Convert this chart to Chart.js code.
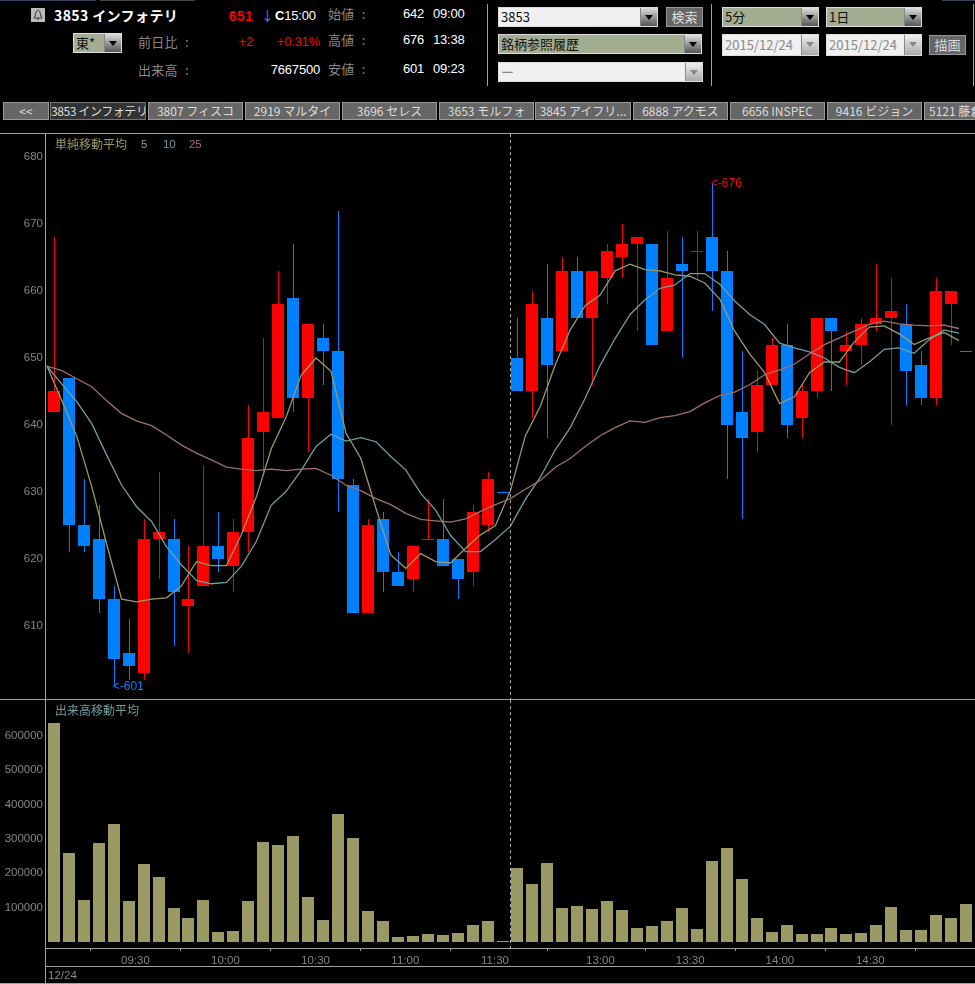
<!DOCTYPE html>
<html>
<head>
<meta charset="utf-8">
<script src="https://cdn.jsdelivr.net/npm/chart.js@4"></script>
<style>
html,body{margin:0;padding:0;background:#000;overflow:hidden}
body{width:975px;height:984px;position:relative;font-family:"Noto Sans CJK JP",sans-serif;font-size:13px;color:#888}
canvas{position:absolute;left:0;display:block}
.t{position:absolute;white-space:nowrap;line-height:16px}
.lab{word-spacing:4px;letter-spacing:.3px}
.num{font-family:"Liberation Sans",sans-serif;font-size:13px;letter-spacing:-.2px}
.r{text-align:right}
.w{color:#fff}
.red{color:#f00}
.hl{position:absolute;background:#a0a0a0;height:1px}
.vl{position:absolute;background:#a0a0a0;width:1px}
.box{position:absolute;box-sizing:border-box;border:1px solid #ddd;color:#111;line-height:18px;padding-left:2px;white-space:nowrap;overflow:hidden}
.light{background:#f0f0f0}
.olive{background:#a3ad92}
.arrow{position:absolute;right:0;top:0;bottom:0;width:16px;background:linear-gradient(#ddd,#555);border-left:1px solid #888}
.arrow:after{content:"";position:absolute;left:4px;top:7px;border:4px solid transparent;border-top:5px solid #000}
.off{background:#f0f0f0;color:#888}
.off .arrow{background:linear-gradient(#eee,#aaa)}
.off .arrow:after{border-top-color:#888}
.btn{position:absolute;box-sizing:border-box;background:#666;border:1px solid #999;color:#ddd;text-align:center;line-height:18px;height:20px}
.tab{position:absolute;box-sizing:border-box;top:102px;height:18px;background:#666;border:1px solid #999;color:#ddd;font-size:12px;line-height:16px;text-align:center;white-space:nowrap;overflow:hidden}
</style>
</head>
<body>
<div class="hl" style="left:0;top:0;width:96px;background:#3a3f60"></div>
<div class="hl" style="left:100px;top:0;width:95px;background:#444"></div>
<div class="hl" style="left:942px;top:0;width:33px;background:#3a3f60"></div>

<svg style="position:absolute;left:31px;top:8px" width="14" height="14"><rect width="14" height="14" fill="#bbb"/><path d="M7 2 C4 3 5 8 3 10 H11 C9 8 10 3 7 2 M6 11 H8" fill="none" stroke="#333"/></svg>
<div class="t w" style="left:54px;top:7px;font-weight:bold;font-size:14px;letter-spacing:.4px">3853 インフォテリ</div>
<div class="t num red r" style="left:210px;width:43px;top:8px;font-weight:bold;font-size:14px;letter-spacing:.3px">651</div>
<div class="t" style="left:261px;top:7px;color:#58f">↓</div>
<div class="t w num" style="left:275px;top:8px"><b>C</b>15:00</div>
<div class="t lab" style="left:328px;top:6px">始値 :</div>
<div class="t lab" style="left:328px;top:32px">高値 :</div>
<div class="t lab" style="left:328px;top:61px">安値 :</div>
<div class="t lab" style="left:138px;top:34px">前日比 :</div>
<div class="t lab" style="left:138px;top:62px">出来高 :</div>
<div class="t num w" style="left:403px;top:6px">642</div>
<div class="t num w" style="left:433px;top:6px">09:00</div>
<div class="t num w" style="left:403px;top:32px">676</div>
<div class="t num w" style="left:433px;top:32px">13:38</div>
<div class="t num w" style="left:403px;top:61px">601</div>
<div class="t num w" style="left:433px;top:61px">09:23</div>
<div class="t num red r" style="left:210px;width:43px;top:34px">+2</div>
<div class="t num red r" style="left:260px;width:60px;top:34px">+0.31%</div>
<div class="t num w r" style="left:260px;width:60px;top:62px">7667500</div>
<div class="box olive" style="left:73px;top:33px;width:49px;height:20px">東*<span class="arrow"></span></div>

<div class="vl" style="left:487px;top:4px;height:82px"></div>
<div class="vl" style="left:711px;top:4px;height:82px"></div>
<div class="vl" style="left:973px;top:4px;height:82px"></div>

<div class="box light" style="left:498px;top:7px;width:160px;height:20px">3853<span class="arrow"></span></div>
<div class="btn" style="left:666px;top:7px;width:37px">検索</div>
<div class="box olive" style="left:498px;top:34px;width:204px;height:20px">銘柄参照履歴<span class="arrow"></span></div>
<div class="box off" style="left:498px;top:62px;width:205px;height:20px">ー<span class="arrow"></span></div>
<div class="box olive" style="left:722px;top:7px;width:97px;height:20px">5分<span class="arrow"></span></div>
<div class="box olive" style="left:826px;top:7px;width:96px;height:20px">1日<span class="arrow"></span></div>
<div class="box off" style="left:722px;top:34px;width:97px;height:22px;font-size:13px;line-height:20px">2015/12/24<span class="arrow"></span></div>
<div class="box off" style="left:826px;top:34px;width:96px;height:22px;font-size:13px;line-height:20px">2015/12/24<span class="arrow"></span></div>
<div class="btn" style="left:929px;top:35px;width:37px">描画</div>

<div class="tab" style="left:3px;width:46px">&lt;&lt;</div>
<div class="tab" style="left:50px;width:96px;background:#333;border-color:#777;letter-spacing:-.4px">3853 インフォテリ</div>
<div class="tab" style="left:148px;width:95px">3807 フィスコ</div>
<div class="tab" style="left:245px;width:95px">2919 マルタイ</div>
<div class="tab" style="left:342px;width:95px">3696 セレス</div>
<div class="tab" style="left:439px;width:95px">3653 モルフォ</div>
<div class="tab" style="left:535px;width:96px">3845 アイフリ...</div>
<div class="tab" style="left:633px;width:95px">6888 アクモス</div>
<div class="tab" style="left:730px;width:95px">6656 INSPEC</div>
<div class="tab" style="left:827px;width:95px">9416 ビジョン</div>
<div class="tab" style="left:924px;width:60px;text-align:left;padding-left:4px">5121 藤倉</div>

<div class="hl" style="left:0;top:133px;width:975px"></div>
<div class="hl" style="left:0;top:699px;width:975px"></div>
<canvas id="price" width="975" height="565" style="top:134px"></canvas>
<canvas id="volume" width="975" height="284" style="top:700px"></canvas>
<div class="hl" style="left:46px;top:966px;width:929px"></div>
<div class="hl" style="left:0;top:983px;width:975px"></div>
<div class="vl" style="left:45px;top:133px;height:851px"></div>

<div class="t" style="left:55px;top:136px;font-size:12px;color:#9b9a65">単純移動平均</div>
<div class="t num" style="left:141px;top:136px;font-size:11.5px;color:#9b9a65">5</div>
<div class="t num" style="left:163px;top:136px;font-size:11.5px;color:#6f9f9f">10</div>
<div class="t num" style="left:189px;top:136px;font-size:11.5px;color:#a26f6f">25</div>
<div class="t" style="left:55px;top:702px;font-size:12px;color:#6f9f9f">出来高移動平均</div>
<div class="t num" style="left:48px;top:967px;font-size:11.5px;letter-spacing:0">12/24</div>

<script>
// 5 minute bars, 12/24 - 62 bars, morning then afternoon session
const opens = [642,647,625,623,614,606,603,623,623,613,616,622,619,624,639,641,659,644,653,651,631,612,626,618,617,623,623,620,618,625,630,650,645,656,651,663,656,662,665,667,667,654,664,666,668,663,642,639,646,652,641,645,656,651,652,655,656,655,649,644,658,651];
const highs = [668,647,632,628,616,611,626,633,626,622,634,627,626,643,653,663,667,655,655,672,632,626,627,621,622,629,629,620,628,633,630,656,660,664,665,665,663,667,670,668,667,669,668,669,676,666,651,648,653,655,646,656,656,654,656,664,662,658,651,662,660,651];
const lows = [642,621,621,612,601,602,602,617,607,606,616,618,615,621,633,641,642,636,646,627,612,612,615,616,615,623,619,614,616,624,630,645,641,638,651,656,646,658,662,654,652,654,650,662,657,632,626,636,646,638,638,644,645,646,649,654,640,643,643,643,652,651];
const closes = [645,625,622,614,605,604,623,624,615,614,622,620,624,638,642,658,644,655,651,632,612,625,618,616,622,623,619,617,627,632,630,645,658,649,663,656,663,666,667,668,652,662,663,666,663,640,638,646,652,640,645,656,654,652,655,656,657,648,644,660,660,651];
const flatBlue = [30,61]; // doji bars drawn blue, the others are red

const ma5 = [648.8,643.6,638.3,630.8,622.2,614,613.6,614,614.2,616,619.6,619,619,623.6,629.2,636.4,641.2,647.4,650,648,638.8,635,627.6,620.6,618.6,620.8,619.6,619.4,621.6,623.6,625,630.2,638.4,642.8,649,654.2,657.8,659.4,663,664,663.2,663,662.4,662.2,661.2,658.8,654,650.6,647.8,643.2,644.2,647.8,649.4,649.4,652.4,654.6,654.8,653.6,652,653,653.8,652.6];
const ma10 = [648.8,646.1,643.5,640.2,635.5,631,627.8,625.6,621.8,619.1,616.8,616.3,616.5,618.9,622.6,628,630.1,633.2,636.8,638.6,637.6,638.1,637.5,635.3,633.3,629.8,627.3,623.5,621.1,621.1,622.9,624.9,628.9,632.2,636.3,639.6,644,648.9,652.9,656.5,658.7,660.4,660.9,662.6,662.6,661,658.5,656.5,655,652.2,651.5,650.9,650,648.6,647.8,649.4,651.3,651.5,650.7,652.7,654.2,653.7];
const ma25 = [648.8,648.1,646.9,645.7,643.6,641.7,640.6,639.9,638.5,637,635.8,634.8,633.7,633.4,633.2,633.4,633.2,633.4,633.5,632.5,631,630.2,629,628.1,626.8,625.9,625.7,625.5,626,627.1,628.1,629,630.4,631.7,633.7,635,636.8,638.4,639.6,640.6,640.4,641.1,641.4,642,643.3,644.4,644.9,646,647.5,648.2,649.1,650.6,652,653,654,655,655.5,655.1,654.9,654.8,654.9,654.4];
const volumes = [637000,259000,122000,288000,343000,119000,227000,189000,99000,70000,122000,29000,32000,119000,291000,282000,308000,131000,64000,372000,302000,90000,61000,14500,17400,23300,20300,26200,49400,61000,3000,215000,169000,230000,99000,105000,96000,119000,93000,41000,46500,61000,99000,38000,235000,273000,183000,70000,29000,49400,23300,23300,41000,23300,26200,49400,102000,35000,35000,78500,70000,110500];

const priceTicks = [610,620,630,640,650,660,670,680];
const volumeTicks = [100000,200000,300000,400000,500000,600000];
const timePositions = [5.45,11.47,17.5,23.5,29.5,36.55,42.55,48.55,54.6];
const timeLabels = ['09:30','10:00','10:30','11:00','11:30','13:00','13:30','14:00','14:30'];
const lunchBreak = 30.53;
const lowMark = {i:4, v:601, text:'<-601', color:'#0a7ff5'};
const highMark = {i:44, v:676, text:'<-676', color:'#f00'};

const UP = '#ff0000', DOWN = '#0080ff';
const AXIS = '#a0a0a0', LABEL = '#858585';
const NUMFONT = {family:'"Liberation Sans",sans-serif', size:11.5};
const XMIN = -0.53, XMAX = 61.6;

function barColor(i){
	if(closes[i] > opens[i]) return UP;
	if(closes[i] < opens[i]) return DOWN;
	return flatBlue.includes(i) ? DOWN : UP;
}
const colors = closes.map((c,i) => barColor(i));

function linePoints(arr){
	// the averages sit on the left edge of each bar
	return arr.map((v,i) => ({x:i-0.47, y:v}));
}

function lineSet(arr, color){
	return {type:'line', data:linePoints(arr), borderColor:color, borderWidth:1.3, pointRadius:0, tension:0, order:0};
}

function noPadding(s){
	s.paddingTop = 0; s.paddingBottom = 0; s.paddingLeft = 0; s.paddingRight = 0;
}

// the original is a bitmap chart, keep the bars on whole pixels
const snapBars = {
	id:'snapBars',
	beforeDatasetDraw(chart, args){
		const ds = chart.data.datasets[args.index];
		if(args.meta.type != 'bar') return;
		args.meta.data.forEach(function(el){
			el.x = Math.round(el.x) + (ds.wick ? 0.5 : 0);
			el.y = Math.round(el.y);
			el.base = Math.round(el.base);
			if(el.y == el.base) el.base = el.y + 1;
		});
	}
};

const lunchLine = {
	id:'lunchLine',
	afterDatasetsDraw(chart){
		const x = Math.round(chart.scales.x.getPixelForValue(lunchBreak)) + 0.5;
		const a = chart.chartArea, ctx = chart.ctx;
		ctx.save();
		ctx.strokeStyle = '#aaa';
		ctx.lineWidth = 1;
		ctx.setLineDash([3,3]);
		ctx.beginPath();
		ctx.moveTo(x, a.top);
		ctx.lineTo(x, a.bottom);
		ctx.stroke();
		ctx.restore();
	}
};

const extremes = {
	id:'extremes',
	afterDatasetsDraw(chart){
		const ctx = chart.ctx;
		ctx.save();
		ctx.font = '12px ' + NUMFONT.family;
		ctx.textBaseline = 'middle';
		[lowMark, highMark].forEach(function(m){
			ctx.fillStyle = m.color;
			ctx.fillText(m.text, chart.scales.x.getPixelForValue(m.i) - 1, chart.scales.y.getPixelForValue(m.v));
		});
		ctx.restore();
	}
};

function yAxis(min, max, values){
	return {
		min:min, max:max,
		afterFit(s){ s.width = 46; noPadding(s) },
		afterBuildTicks(s){ s.ticks = values.map(v => ({value:v})) },
		grid:{display:false, drawTicks:false},
		border:{display:false},
		ticks:{color:LABEL, font:NUMFONT, padding:3, autoSkip:false, callback(v){ return String(v) }}
	};
}

new Chart(document.getElementById('price'), {
	type:'bar',
	data:{
		datasets:[
			lineSet(ma25, '#a26f6f'),
			lineSet(ma10, '#6f9f9f'),
			lineSet(ma5, '#9b9a65'),
			{data:opens.map((o,i) => ({x:i, y:[o,closes[i]]})), backgroundColor:colors, barThickness:12, grouped:false, inflateAmount:0, order:1},
			{data:lows.map((l,i) => ({x:i, y:[l,highs[i]]})), backgroundColor:colors, barThickness:1, grouped:false, inflateAmount:0, order:2, wick:true}
		]
	},
	options:{
		responsive:false, animation:false,
		layout:{padding:0},
		plugins:{legend:{display:false}, tooltip:{enabled:false}},
		scales:{
			x:{type:'linear', offset:false, min:XMIN, max:XMAX, display:false},
			y:yAxis(599.1, 683.43, priceTicks)
		}
	},
	plugins:[snapBars, lunchLine, extremes]
});

new Chart(document.getElementById('volume'), {
	type:'bar',
	data:{
		datasets:[
			{data:volumes.map((v,i) => ({x:i, y:v})), backgroundColor:'#9b9a65', barThickness:12, grouped:false, inflateAmount:0}
		]
	},
	options:{
		responsive:false, animation:false,
		layout:{padding:0},
		plugins:{legend:{display:false}, tooltip:{enabled:false}},
		scales:{
			x:{
				type:'linear', offset:false, min:XMIN, max:XMAX,
				afterFit(s){ s.height = 36; noPadding(s) },
				afterBuildTicks(s){ s.ticks = timePositions.map(v => ({value:v})) },
				grid:{drawOnChartArea:false, drawTicks:true, tickLength:3, color:AXIS},
				border:{color:AXIS},
				ticks:{
					color:LABEL, font:NUMFONT, padding:3, autoSkip:false, maxRotation:0,
					callback(v){ return timeLabels[timePositions.indexOf(v)] }
				}
			},
			y:yAxis(-17442, 703488, volumeTicks)
		}
	},
	plugins:[snapBars, lunchLine]
});
</script>
</body>
</html>
